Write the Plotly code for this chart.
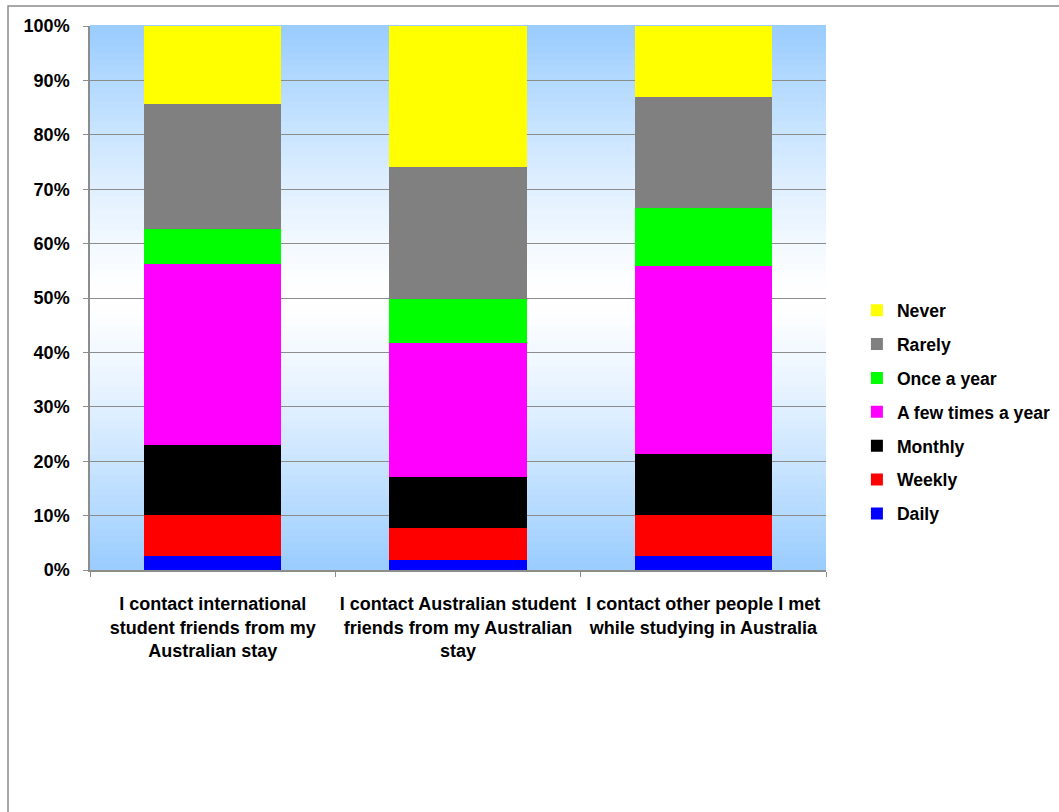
import plotly.graph_objects as go

# Survey statements (x categories)
categories = [
    "I contact international<br>student friends from my<br>Australian stay",
    "I contact Australian student<br>friends from my Australian<br>stay",
    "I contact other people I met<br>while studying in Australia",
]

# Share of respondents per contact frequency (%), bottom to top of each stack
daily = [2.6, 1.8, 2.6]
weekly = [7.5, 5.9, 7.5]
monthly = [12.9, 9.4, 11.2]
few_times_a_year = [33.3, 24.6, 34.6]
once_a_year = [6.3, 8.1, 10.6]
rarely = [23.0, 24.3, 20.5]
never = [14.4, 25.9, 13.0]

series_names = ["Daily", "Weekly", "Monthly", "A few times a year",
                "Once a year", "Rarely", "Never"]
series_values = [daily, weekly, monthly, few_times_a_year,
                 once_a_year, rarely, never]
series_colors = ["#0000FF", "#FF0000", "#000000", "#FF00FF",
                 "#00FF00", "#808080", "#FFFF00"]

y_ticks = [0, 10, 20, 30, 40, 50, 60, 70, 80, 90, 100]

FONT = "Arial, 'Liberation Sans', sans-serif"

fig = go.Figure()
n_series = len(series_names)
for i, (name, vals, col) in enumerate(zip(series_names, series_values, series_colors)):
    fig.add_trace(go.Bar(
        x=categories, y=vals, name=name, legendgroup=name,
        legendrank=n_series - i,  # top of the stack listed first
        marker=dict(color=col, line=dict(width=0)),
    ))

# Vertical blue-white-blue gradient behind the plot area
shapes = []
n_bands = 80
top = (153, 204, 255)
for i in range(n_bands):
    y0 = i / n_bands
    y1 = (i + 1) / n_bands
    mid = (y0 + y1) / 2
    t = abs(mid - 0.5) * 2  # 0 at centre, 1 at edges
    t = t ** 1.3
    r = round(255 + (top[0] - 255) * t)
    g = round(255 + (top[1] - 255) * t)
    b = 255
    shapes.append(dict(
        type="rect", xref="paper", yref="paper", x0=0, x1=1,
        y0=y0, y1=y1 + 0.002, layer="below",
        line=dict(width=0), fillcolor=f"rgb({r},{g},{b})",
    ))

# Chart-area border
shapes.append(dict(
    type="rect", xref="paper", yref="paper",
    x0=-0.1114, x1=1.4, y0=1.0368, y1=-0.6, layer="above",
    line=dict(color="#8C8C8C", width=1.5), fillcolor="rgba(0,0,0,0)",
))

fig.update_layout(
    barmode="stack",
    bargap=0.44,
    width=1059, height=812,
    margin=dict(l=90, r=233, t=26, b=242, autoexpand=False),
    paper_bgcolor="white",
    plot_bgcolor="white",
    font=dict(family=FONT, size=18, color="black"),
    shapes=shapes,
    showlegend=True,
    legend=dict(
        traceorder="grouped",
        tracegroupgap=8,
        x=1.042, xanchor="left",
        y=0.29, yanchor="middle",
        font=dict(family=FONT, size=17.6, color="black", weight="bold"),
        bgcolor="rgba(0,0,0,0)",
        itemclick=False,
    ),
)

fig.update_yaxes(
    range=[0, 100],
    tickvals=y_ticks,
    ticktext=[f"{v}%" for v in y_ticks],
    showgrid=True, gridcolor="#8C8C8C", gridwidth=1,
    showline=True, linecolor="#8C8C8C", linewidth=1.5,
    ticks="outside", ticklen=5, tickcolor="#8C8C8C",
    tickfont=dict(family=FONT, size=18, color="black", weight="bold"),
    ticklabelstandoff=10,
    zeroline=False,
)
fig.update_xaxes(
    showline=True, linecolor="#8C8C8C", linewidth=1.5,
    ticks="outside", ticklen=5, tickcolor="#8C8C8C",
    tickson="boundaries",
    tickangle=0,
    tickfont=dict(family=FONT, size=18, color="black", weight="bold"),
    ticklabelstandoff=17,
    showgrid=False,
)

fig.write_html("out.html")
